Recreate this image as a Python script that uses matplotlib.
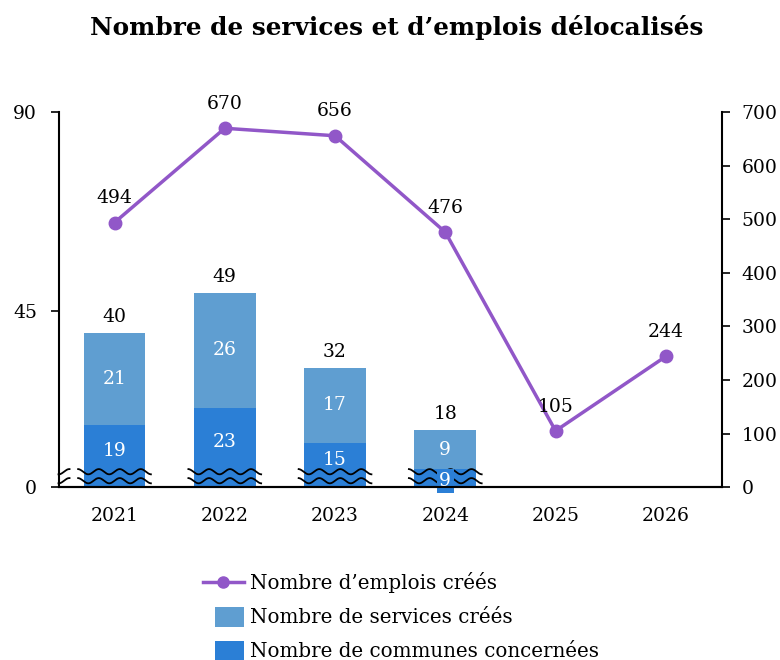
import matplotlib
matplotlib.use("Agg")
import matplotlib.pyplot as plt
import numpy as np
from matplotlib.patches import Rectangle
from matplotlib.lines import Line2D
from matplotlib.legend_handler import HandlerPatch
from matplotlib.transforms import blended_transform_factory

plt.rcParams['font.family'] = ['DejaVu Serif']

# Data
years = ['2021', '2022', '2023', '2024', '2025', '2026']
communes = [19, 23, 15, 9]          # Nombre de communes concernées
services = [21, 26, 17, 9]          # Nombre de services créés
totals = [40, 49, 32, 18]
emplois = [494, 670, 656, 476, 105, 244]   # Nombre d'emplois créés

left_ticks = [45, 90]
right_ticks = [0, 100, 200, 300, 400, 500, 600, 700]

# Left axis is broken: the band below AXIS_BREAK is cut out
AXIS_BREAK = 5

c_line = '#9157C8'
c_serv = '#5F9ED1'
c_comm = '#2B7FD6'

FS = 13.5

fig = plt.figure(figsize=(7.8, 6.6), dpi=100)
ax = fig.add_axes([0.0750, 0.262, 0.8500, 0.568])
ax2 = ax.twinx()

x = np.arange(len(years))
xb = x[:len(communes)]
w = 0.56

ax.bar(xb, communes, w, color=c_comm, zorder=2)
ax.bar(xb, services, w, bottom=communes, color=c_serv, zorder=2)

ax.set_xlim(-0.508, 5.505)
ax.set_ylim(AXIS_BREAK, 90)
ax.set_yticks([AXIS_BREAK] + left_ticks, labels=['0'] + [str(t) for t in left_ticks])
ax.set_xticks(x, labels=years)

ax2.set_ylim(0, 700)
ax2.set_yticks(right_ticks)

for a in (ax, ax2):
    a.spines['top'].set_visible(False)
    a.tick_params(axis='y', direction='out', length=5.5, width=1.2, labelsize=FS)
    for s in a.spines.values():
        s.set_linewidth(1.5)
ax.tick_params(axis='y', pad=10)
ax2.tick_params(axis='y', pad=9)
ax.spines['right'].set_visible(False)
ax2.spines['left'].set_visible(False)
ax.tick_params(axis='x', length=0, labelsize=FS, pad=14)

# Segment labels
for xi, c, s, t in zip(xb, communes, services, totals):
    small = c <= 10
    yc = (AXIS_BREAK + c) / 2 + (-0.6 if small else 1.2)
    ax.text(xi, yc, str(c), ha='center', va='center',
            color='white', fontsize=FS, zorder=5,
            bbox=dict(boxstyle='square,pad=0.15', fc=c_comm, ec='none') if small else None)
    ax.text(xi, c + s / 2, str(s), ha='center', va='center',
            color='white', fontsize=FS, zorder=5)
    ax.annotate(str(t), (xi, t), xytext=(0, 5), textcoords='offset points',
                ha='center', va='bottom', fontsize=FS, zorder=5)

# Axis-break marks across each bar and the left spine
trans = blended_transform_factory(ax.transData, ax.transAxes)
for xi in list(xb) + [ax.get_xlim()[0] + 0.05]:
    half = w / 2 + 0.05 if xi in xb else 0.05
    xs = np.linspace(xi - half, xi + half, 200)
    for yb in (0.041, 0.017):
        ys = yb + 0.007 * np.sin((xs - xi) * 2 * np.pi / 0.19)
        ax.plot(xs, ys, color='black', lw=1.3, transform=trans, zorder=4, clip_on=False)

# Jobs line
ax2.plot(x, emplois, color=c_line, lw=2.5, marker='o', markersize=9, zorder=6)
for xi, v in zip(x, emplois):
    ax2.annotate(str(v), (xi, v), xytext=(0, 11), textcoords='offset points',
                 ha='center', va='bottom', fontsize=FS, zorder=7)
ax2.set_zorder(ax.get_zorder() + 1)
ax2.patch.set_visible(False)

fig.suptitle('Nombre de services et d’emplois délocalisés', fontsize=17.8,
             fontweight='bold', x=0.509, y=0.977)

# Legend with narrower square patches
class NarrowPatch(HandlerPatch):
    def create_artists(self, legend, orig_handle, xdescent, ydescent, width,
                       height, fontsize, trans):
        pw = width * 0.7
        p = Rectangle((-xdescent + width - pw, -ydescent - height * 0.25), pw,
                      height * 1.4, facecolor=orig_handle.get_facecolor(),
                      edgecolor='none', transform=trans)
        return [p]

h_line = Line2D([], [], color=c_line, lw=2.5, marker='o', markersize=8)
h_serv = Rectangle((0, 0), 1, 1, fc=c_serv)
h_comm = Rectangle((0, 0), 1, 1, fc=c_comm)
fig.legend([h_line, h_serv, h_comm],
           ['Nombre d’emplois créés', 'Nombre de services créés',
            'Nombre de communes concernées'],
           loc='upper left', bbox_to_anchor=(0.247, 0.148), frameon=False,
           fontsize=14.3, handlelength=2.1, handletextpad=0.3, labelspacing=0.75,
           handler_map={Rectangle: NarrowPatch()}, borderpad=0)

fig.savefig('out.png', dpi=100)
